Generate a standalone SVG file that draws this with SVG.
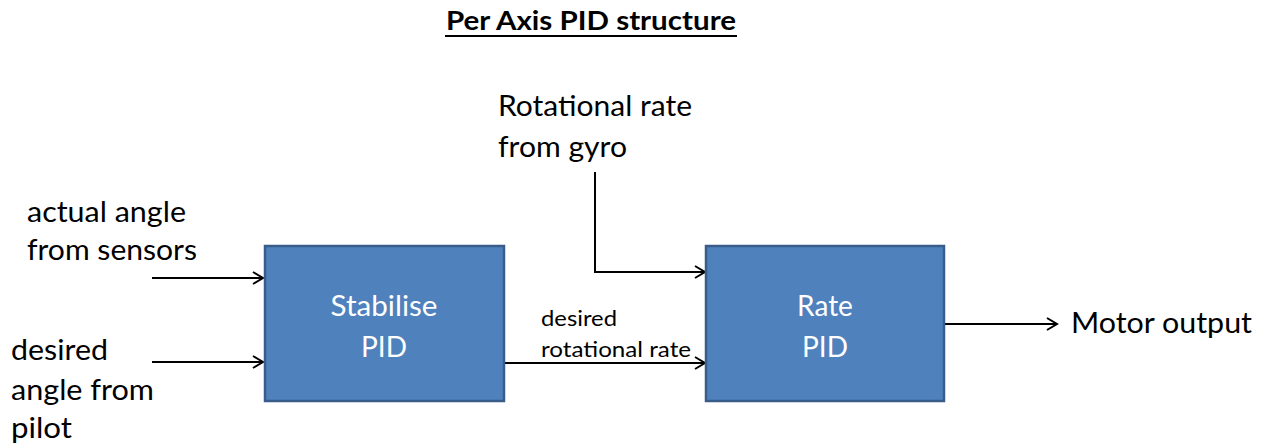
<svg xmlns="http://www.w3.org/2000/svg" width="1270" height="445" viewBox="0 0 1270 445">
<style>
.t{font-family:Lato,"Open Sans","Liberation Sans",sans-serif;font-size:28px;fill:#000}
.s{font-family:Lato,"Open Sans","Liberation Sans",sans-serif;font-size:22px;fill:#000}
.w{font-family:Lato,"Open Sans","Liberation Sans",sans-serif;font-size:28px;fill:#fff;text-anchor:middle}
.box{fill:#4F81BD;stroke:#385D8A;stroke-width:2.5}
.c{fill:none;stroke:#000;stroke-width:2;marker-end:url(#ah)}
</style>
<defs>
<marker id="ah" markerWidth="14" markerHeight="14" refX="11" refY="7" orient="auto" markerUnits="userSpaceOnUse">
<polyline points="1,1 11,7 1,13" fill="none" stroke="#000" stroke-width="2"/>
</marker>
</defs>
<rect width="1270" height="445" fill="#fff"/>
<g id="title">
<text x="591" y="30" text-anchor="middle" font-family="Lato,'Open Sans','Liberation Sans',sans-serif" font-size="27" font-weight="bold" textLength="290" lengthAdjust="spacingAndGlyphs">Per Axis PID structure</text>
<line x1="445" y1="36" x2="737" y2="36" stroke="#000" stroke-width="2"/>
</g>
<g id="connectors">
<line class="c" x1="152" y1="278" x2="263" y2="278"/>
<line class="c" x1="152" y1="362" x2="263" y2="362"/>
<line class="c" x1="505" y1="363" x2="705" y2="363"/>
<polyline class="c" points="595,172 595,272 705,272"/>
<line class="c" x1="945" y1="324" x2="1057" y2="324"/>
</g>
<g id="stabilise">
<rect class="box" x="265" y="246" width="239" height="155"/>
<text class="w" x="384" y="316" textLength="107" lengthAdjust="spacingAndGlyphs">Stabilise</text>
<text class="w" x="384" y="357">PID</text>
</g>
<g id="rate">
<rect class="box" x="706" y="246" width="238" height="155"/>
<text class="w" x="825" y="316">Rate</text>
<text class="w" x="825" y="357">PID</text>
</g>
<g id="gyro-label">
<text class="t" x="498" y="116" textLength="194" lengthAdjust="spacingAndGlyphs">Rotational rate</text>
<text class="t" x="498" y="157" textLength="129" lengthAdjust="spacingAndGlyphs">from gyro</text>
</g>
<g id="actual-label">
<text class="t" x="27" y="222" textLength="159" lengthAdjust="spacingAndGlyphs">actual angle</text>
<text class="t" x="27" y="260" textLength="170" lengthAdjust="spacingAndGlyphs">from sensors</text>
</g>
<g id="desired-label">
<text class="t" x="11" y="360" textLength="97" lengthAdjust="spacingAndGlyphs">desired</text>
<text class="t" x="11" y="400" textLength="143" lengthAdjust="spacingAndGlyphs">angle from</text>
<text class="t" x="11" y="438" textLength="61" lengthAdjust="spacingAndGlyphs">pilot</text>
</g>
<g id="rate-label">
<text class="s" x="541" y="326" textLength="76" lengthAdjust="spacingAndGlyphs">desired</text>
<text class="s" x="541" y="357" textLength="150" lengthAdjust="spacingAndGlyphs">rotational rate</text>
</g>
<g id="motor-label">
<text class="t" x="1071" y="333" textLength="181" lengthAdjust="spacingAndGlyphs">Motor output</text>
</g>
</svg>
